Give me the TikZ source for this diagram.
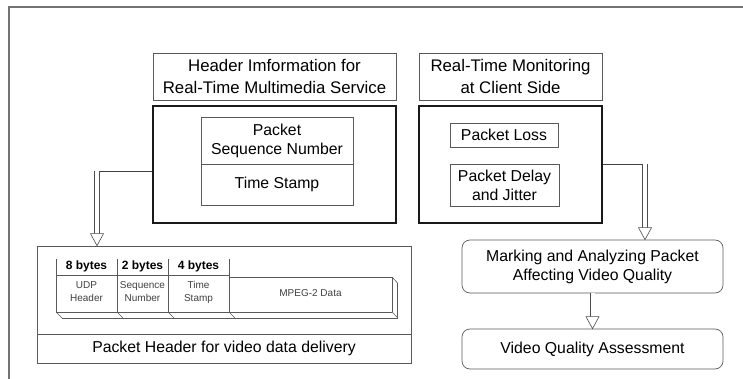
\documentclass[tikz,border=0pt]{standalone}
\usepackage{fontspec}
\setmainfont{Liberation Sans}
\usetikzlibrary{arrows.meta,calc}
\tikzset{
 frameline/.style={draw=black!55, line width=1.2pt},
 thinbox/.style={draw=black!65, line width=0.7pt, inner sep=0pt, align=center},
 thickbox/.style={draw=black!90, line width=2pt, inner sep=0pt},
 roundbox/.style={thinbox, rounded corners=8pt},
 bigtext/.style={font=\fontsize{16.8}{21.5}\selectfont},
 midtext/.style={font=\fontsize{15.8}{19}\selectfont},
 bytetext/.style={font=\bfseries\fontsize{12}{14}\selectfont, inner sep=0pt},
 smalltext/.style={font=\fontsize{10}{13}\selectfont, text=black!75, align=center, inner sep=0pt},
 pline/.style={draw=black!65, line width=0.6pt},
 conn/.style={draw=black!75, line width=0.7pt},
 shaft/.style={draw=black!70, line width=0.6pt, double=white, double distance=4pt},
 headtip/.style={draw=black!70, line width=0.6pt, fill=white},
}
\begin{document}
\begin{tikzpicture}[x=1pt,y=-1pt]
\useasboundingbox (0,0) rectangle (743,379);
% outer frame
\draw[frameline] (9,379) -- (9,7) -- (743,7);

% left column
\node[thinbox, bigtext, minimum width=243pt, minimum height=47pt] (hdr1) at (274.5,76.5) {Header Imformation for\\Real-Time Multimedia Service};
\node[thickbox, minimum width=243pt, minimum height=117pt] (tb1) at (274.5,164.5) {};
\node[thinbox, midtext, minimum width=152pt, minimum height=47pt] (seq) at (277,140.5) {Packet\\Sequence Number};
\node[thinbox, midtext, minimum width=152pt, minimum height=41pt] (ts) at (277,184.5) {Time Stamp};

% right column
\node[thinbox, bigtext, minimum width=183pt, minimum height=47pt] (hdr2) at (510.5,76.5) {Real-Time Monitoring\\at Client Side};
\node[thickbox, minimum width=183pt, minimum height=117pt] (tb2) at (510.5,164.5) {};
\node[thinbox, midtext, minimum width=108pt, minimum height=24pt] (loss) at (504,135) {Packet Loss};
\node[thinbox, midtext, minimum width=109pt, minimum height=42pt] (delay) at (504.5,185) {Packet Delay\\and Jitter};

\node[roundbox, midtext, minimum width=261pt, minimum height=53pt] (mark) at (592.5,266.5) {Marking and Analyzing Packet\\Affecting Video Quality};
\node[roundbox, midtext, minimum width=261pt, minimum height=40pt] (vqa) at (592.5,349) {Video Quality Assessment};

% packet structure
\node[thinbox, minimum width=374pt, minimum height=88pt] (pkt) at (224,290) {};
\node[thinbox, midtext, minimum width=374pt, minimum height=29pt] (pkthdr) at (224,348.5) {Packet Header for video data delivery};

\foreach \x in {56,117,168,229} \draw[pline] (\x,259) -- (\x,312);
\draw[pline] (56,275) -- (229,275);
\draw[pline] (229,277) -- (392,277) -- (392,312);
\draw[pline] (392,277) -- (397.5,283) -- (397.5,318);
\draw[pline] (56,312) -- (392,312);
\draw[pline] (62,318) -- (397.5,318);
\foreach \x in {56,117,168,229,392} \draw[pline] (\x,312) -- (\x+6,318);

\node[bytetext] (b8) at (86.5,266) {8 bytes};
\node[bytetext] (b2) at (142.5,266) {2 bytes};
\node[bytetext] (b4) at (198.5,266) {4 bytes};
\node[smalltext] (udp) at (86.5,292) {UDP\\Header};
\node[smalltext] (sqn) at (142.5,292) {Sequence\\Number};
\node[smalltext] (tms) at (198.5,292) {Time\\Stamp};
\node[smalltext] (mpeg) at (310.5,293) {MPEG-2 Data};

% connector 1: header info -> packet
\coordinate (c1) at ($(tb1.west)+(-55,6.5)$);
\coordinate (t1) at (pkt.north -| c1);
\draw[conn] ($(tb1.west)+(0,6.5)$) -- (c1);
\draw[shaft] (c1) -- ($(t1)+(0,-10)$);
\draw[headtip] ($(t1)+(-6.5,-12)$) -- ($(t1)+(6.5,-12)$) -- (t1) -- cycle;

% connector 2: monitoring -> marking
\coordinate (c2) at ($(tb2.east)+(42,-0.5)$);
\coordinate (t2) at (mark.north -| c2);
\draw[conn] ($(tb2.east)+(0,-0.5)$) -- (c2);
\draw[shaft] (c2) -- ($(t2)+(0,-10)$);
\draw[headtip] ($(t2)+(-6.5,-12)$) -- ($(t2)+(6.5,-12)$) -- (t2) -- cycle;

% connector 3: marking -> assessment
\coordinate (t3) at (vqa.north);
\draw[shaft] (mark.south) -- ($(t3)+(0,-10)$);
\draw[headtip] ($(t3)+(-6.5,-12)$) -- ($(t3)+(6.5,-12)$) -- (t3) -- cycle;
\end{tikzpicture}
\end{document}
